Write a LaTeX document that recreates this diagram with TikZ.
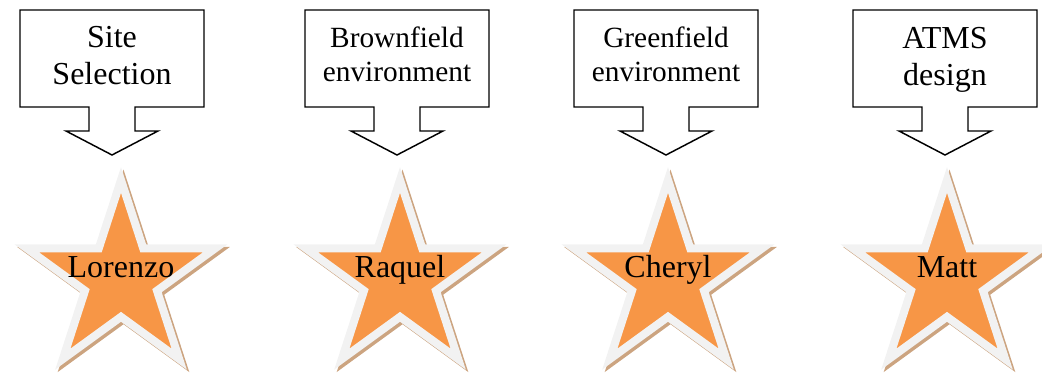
\documentclass[tikz,border=0pt]{standalone}
\usepackage{fontspec}
\setmainfont{Liberation Serif}
\usetikzlibrary{shapes.geometric}

\definecolor{starorange}{RGB}{247,150,70}
\definecolor{starrim}{RGB}{242,242,242}
\definecolor{starshade}{RGB}{204,164,128}

\tikzset{
  callout line/.style={draw=black, line width=1.1pt, fill=white},
  big text/.style={font=\fontsize{24}{27.75}\selectfont, align=center, inner sep=0pt},
  small text/.style={font=\fontsize{22}{25.5}\selectfont, align=center, inner sep=0pt},
  name star/.style={star, star points=5, star point ratio=2.618, minimum size=148.5pt, inner sep=0pt, line width=6pt, draw=starrim, fill=starorange},
  star shade/.style={name star, draw=starshade, fill=starshade},
  name text/.style={font=\fontsize{24}{27.75}\selectfont, inner sep=0pt, anchor=base},
}

\begin{document}
\begin{tikzpicture}[x=0.75pt,y=-0.75pt]
\useasboundingbox (0,0) rectangle (1042,373);

%Shape: Down Arrow Callout [Site Selection]
\draw [callout line] (20,10) -- (204,10) -- (204,107) -- (135,107) -- (135,131) -- (158,131) -- (112,155) -- (66,131) -- (89,131) -- (89,107) -- (20,107) -- cycle ;
%Shape: Down Arrow Callout [Brownfield]
\draw [callout line] (305,10) -- (489,10) -- (489,107) -- (420,107) -- (420,131) -- (443,131) -- (397,155) -- (351,131) -- (374,131) -- (374,107) -- (305,107) -- cycle ;
%Shape: Down Arrow Callout [Greenfield]
\draw [callout line] (574,10) -- (758,10) -- (758,107) -- (689,107) -- (689,131) -- (712,131) -- (666,155) -- (620,131) -- (643,131) -- (643,107) -- (574,107) -- cycle ;
%Shape: Down Arrow Callout [ATMS]
\draw [callout line] (853,10) -- (1037,10) -- (1037,107) -- (968,107) -- (968,131) -- (991,131) -- (945,155) -- (899,131) -- (922,131) -- (922,107) -- (853,107) -- cycle ;

% Text Node
\node [big text] (sitetext) at (112,55.5) {Site\\Selection};
% Text Node
\node [small text] (browntext) at (397,54.3) {Brownfield\\environment};
% Text Node
\node [small text] (greentext) at (666,54) {Greenfield\\environment};
% Text Node
\node [big text] (atmstext) at (945,59.4) {ATMS\\design};

%Shape: Star shadows
\node [star shade] (lorenzoshade) at (123.5,281.5) {};
\node [star shade] (raquelshade) at (402.5,281.5) {};
\node [star shade] (cherylshade) at (670.5,281.5) {};
\node [star shade] (mattshade) at (949.5,281.5) {};

%Shape: Stars
\node [name star] (lorenzo) at (121,279) {};
\node [name star] (raquel) at (400,279) {};
\node [name star] (cheryl) at (668,279) {};
\node [name star] (matt) at (947,279) {};

% Text Node
\node [name text] (lorenzoname) at ([yshift=0.75pt]lorenzo.center) {Lorenzo};
% Text Node
\node [name text] (raquelname) at ([yshift=0.75pt]raquel.center) {Raquel};
% Text Node
\node [name text] (cherylname) at ([yshift=0.75pt]cheryl.center) {Cheryl};
% Text Node
\node [name text] (mattname) at ([yshift=0.75pt]matt.center) {Matt};

\end{tikzpicture}
\end{document}
